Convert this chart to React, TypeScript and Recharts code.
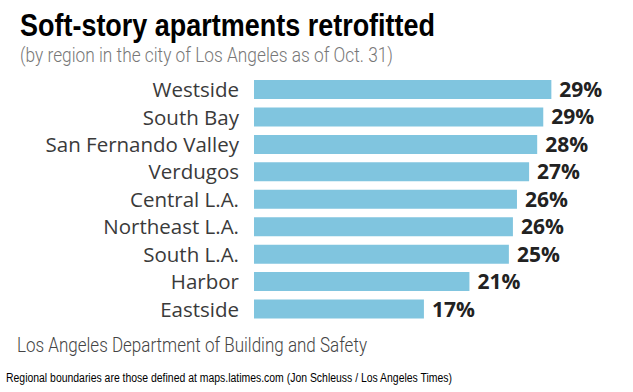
import React from "react";
import { BarChart, Bar, XAxis, YAxis, LabelList } from "recharts";

// --- Data ---

const REGIONS = [
  "Westside",
  "South Bay",
  "San Fernando Valley",
  "Verdugos",
  "Central L.A.",
  "Northeast L.A.",
  "South L.A.",
  "Harbor",
  "Eastside",
];

// share of soft-story apartments retrofitted, percent
const RETROFITTED = [29.4, 28.6, 28.0, 27.2, 26.0, 25.6, 25.2, 21.3, 16.8];

const TITLE = "Soft-story apartments retrofitted";
const SUBTITLE = "(by region in the city of Los Angeles as of Oct. 31)";
const SOURCE = "Los Angeles Department of Building and Safety";
const FOOTER =
  "Regional boundaries are those defined at maps.latimes.com (Jon Schleuss / Los Angeles Times)";

// --- Constants ---

const W = 633;
const H = 392;
const BAR_COLOR = "#80c5df";
const LABEL_COLOR = "#3a3a3a";
const VALUE_COLOR = "#222";

const data = REGIONS.map((name, i) => ({ name, value: RETROFITTED[i] }));

function RegionTick({ x, y, payload }: any) {
  return (
    <text
      x={x - 7}
      y={y}
      dy="0.36em"
      textAnchor="end"
      fill={LABEL_COLOR}
      style={{ fontFamily: "'Open Sans', sans-serif", fontSize: 20.5 }}
    >
      {payload.value}
    </text>
  );
}

export default function App() {
  return (
    <div
      style={{
        position: "fixed",
        left: 0,
        top: 0,
        width: W,
        height: H,
        background: "#fff",
      }}
    >
      <BarChart
        width={W}
        height={H}
        data={data}
        layout="vertical"
        margin={{ top: 76, right: 25, bottom: 69, left: 0 }}
        barCategoryGap={0}
      >
        <XAxis type="number" domain={[0, 35]} hide />
        <YAxis
          type="category"
          dataKey="name"
          width={254}
          axisLine={false}
          tickLine={false}
          tick={<RegionTick />}
          interval={0}
        />
        <Bar dataKey="value" fill={BAR_COLOR} barSize={19} isAnimationActive={false}>
          <LabelList
            dataKey="value"
            position="right"
            offset={8}
            formatter={(v: any) => `${Math.round(v)}%`}
            fill={VALUE_COLOR}
            style={{ fontFamily: "'Open Sans', sans-serif", fontSize: 21, fontWeight: 700 }}
          />
        </Bar>
      </BarChart>

      <svg
        width={W}
        height={H}
        style={{ position: "absolute", left: 0, top: 0, pointerEvents: "none" }}
      >
        <text
          x={20}
          y={36}
          textLength={415}
          lengthAdjust="spacingAndGlyphs"
          fill="#000"
          style={{
            fontFamily: "'Liberation Sans Narrow', 'Arial Narrow', 'Liberation Sans', sans-serif",
            fontSize: 32,
            fontWeight: 700,
          }}
        >
          {TITLE}
        </text>
        <text
          x={20}
          y={62}
          textLength={373}
          lengthAdjust="spacingAndGlyphs"
          fill="#777"
          style={{ fontFamily: "Roboto, sans-serif", fontSize: 20.5, fontWeight: 300 }}
        >
          {SUBTITLE}
        </text>
        <text
          x={17}
          y={352}
          textLength={350}
          lengthAdjust="spacingAndGlyphs"
          fill="#444"
          style={{ fontFamily: "Roboto, sans-serif", fontSize: 20.5, fontWeight: 300 }}
        >
          {SOURCE}
        </text>
        <text
          x={6}
          y={382}
          textLength={446}
          lengthAdjust="spacingAndGlyphs"
          fill="#000"
          style={{
            fontFamily: "'Liberation Sans Narrow', 'Arial Narrow', 'Liberation Sans', sans-serif",
            fontSize: 12.5,
          }}
        >
          {FOOTER}
        </text>
      </svg>
    </div>
  );
}
